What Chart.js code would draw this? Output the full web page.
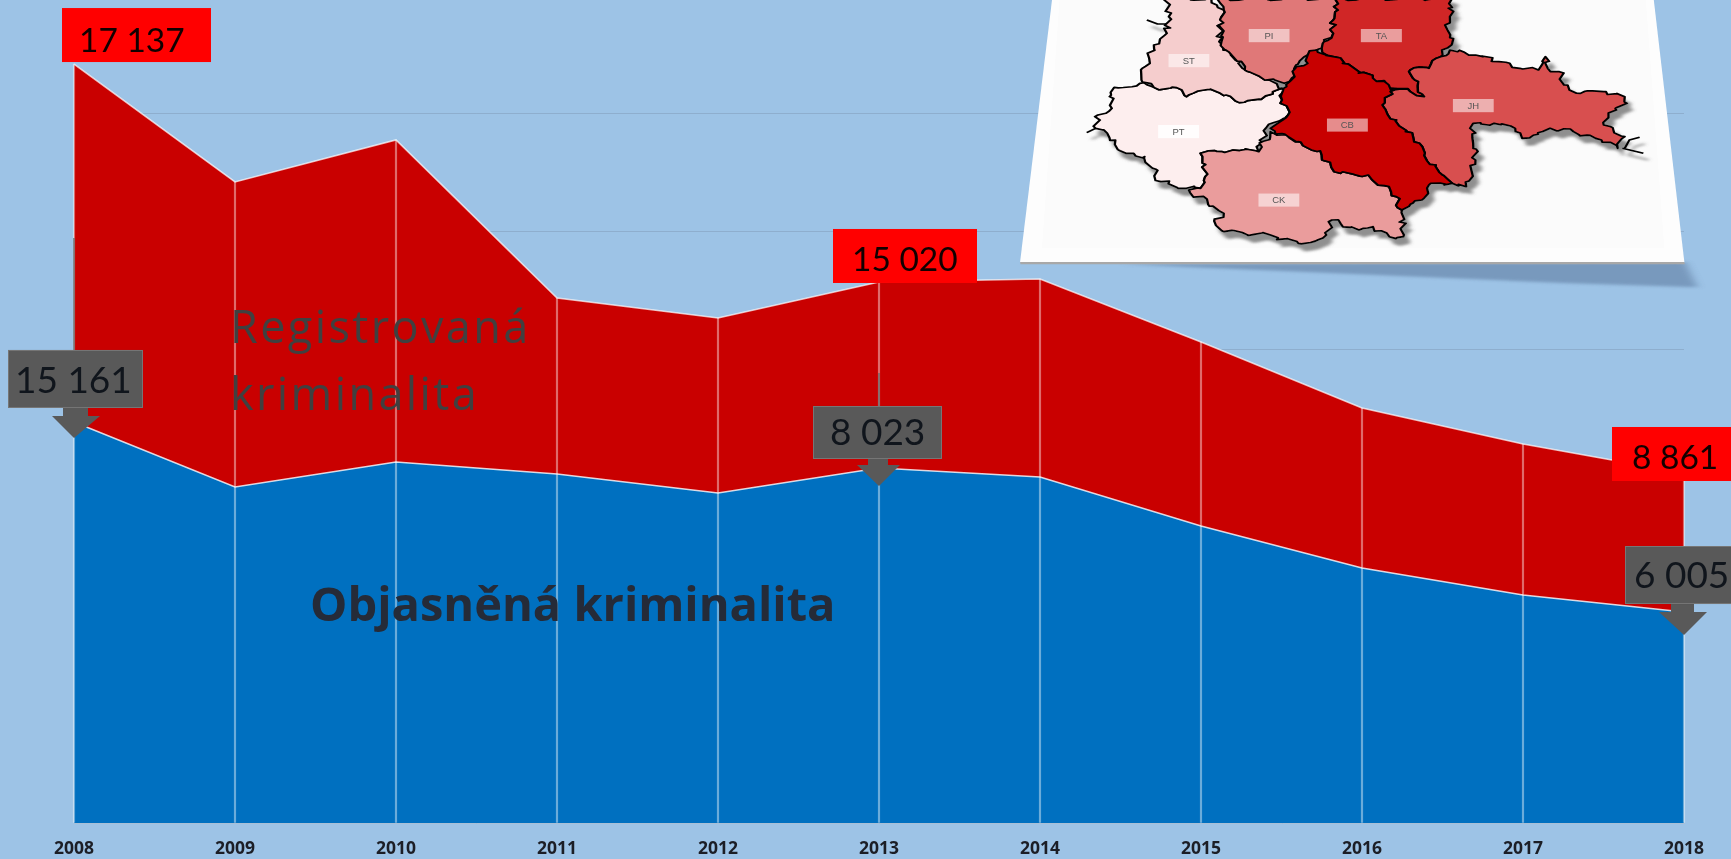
<!DOCTYPE html>
<html lang="cs">
<head>
<meta charset="utf-8">
<title>Registrovaná a objasněná kriminalita</title>
<script src="https://cdn.jsdelivr.net/npm/chart.js@4"></script>
<style>
html,body{margin:0;padding:0;width:1731px;height:859px;overflow:hidden;background:#9dc3e6}
#c{position:absolute;left:0;top:0}
#map{position:absolute;left:1000px;top:0}
</style>
</head>
<body>
<canvas id="c" width="1731" height="859"></canvas>
<svg id="map" width="731" height="300" viewBox="0 0 1568 900" preserveAspectRatio="none" xmlns="http://www.w3.org/2000/svg"></svg>
<script>
const years = ['2008','2009','2010','2011','2012','2013','2014','2015','2016','2017','2018'];
const registered = [17137,14474,15422,11855,11403,12216,12284,10861,9371,8558,7903];
const solved = [9055,7587,8151,7880,7451,8016,7813,6706,5758,5148,4764];
const gridValues = [0,2671,5342,8013,10684,13355,16026];
const registeredLabels = ['17 137','15 020','8 861'];
const solvedLabels = ['15 161','8 023','6 005'];
const seriesNames = ['Registrovaná','kriminalita','Objasněná kriminalita'];
const districts = ['PT','ST','CK','PI','TA','JH','CB'];

const style = {
  bg:'#9dc3e6', red:'#c90000', blue:'#0070c0', flag:'#ff0000', grey:'#595959'
};

// Callout geometry, relative to the data point they belong to
const redBoxes = [
  {i:0,  l:-12, r:137, t:-56, b:-2, tx:5},
  {i:5,  l:-46, r:98,  t:-53, b:1,  tx:-27, by:-11},
  {i:10, l:-72, r:48,  t:-46, b:8,  tx:-52, by:-4}
];
const greyBoxes = [
  {i:0,  l:-66, r:69, t:-72, b:-14, tx:-59, by:-29, sl:-11, sr:14, head:-6, hl:-22, hr:26, tip:16, lead:112},
  {i:5,  l:-66, r:63, t:-62, b:-9,  tx:-49, by:-23, sl:-11, sr:9,  head:-3, hl:-22, hr:21, tip:18, lead:33},
  {i:10, l:-59, r:48, t:-66, b:-8,  tx:-50, by:-24, sl:-13, sr:10, head:0,  hl:-25, hr:23, tip:23, lead:0}
];

const overlay = {
  id:'overlay',
  afterDraw(chart){
    const {ctx,scales:{x,y}} = chart;
    ctx.save();
    // series names
    ctx.textAlign='left'; ctx.textBaseline='alphabetic';
    ctx.fillStyle='#404040';
    ctx.font='400 45px "Open Sans", sans-serif';
    ctx.letterSpacing='2.4px';
    ctx.fillText(seriesNames[0], 230, 343);
    ctx.fillText(seriesNames[1], 230, 410);
    ctx.letterSpacing='0px';
    ctx.fillStyle='#252b38';
    ctx.font='700 47px "Open Sans", sans-serif';
    ctx.fillText(seriesNames[2], 310, 621);
    // red flags
    ctx.font='400 33.5px Lato, sans-serif';
    redBoxes.forEach((b,k)=>{
      const px=x.getPixelForValue(b.i), py=y.getPixelForValue(registered[b.i]);
      ctx.fillStyle=style.flag;
      ctx.fillRect(px+b.l,py+b.t,b.r-b.l,b.b-b.t);
      ctx.fillStyle='#120000';
      ctx.fillText(registeredLabels[k],px+b.tx,py+(b.by===undefined?-12:b.by));
    });
    // grey callouts
    ctx.font='400 37px Lato, sans-serif';
    greyBoxes.forEach((b,k)=>{
      const px=x.getPixelForValue(b.i), py=y.getPixelForValue(solved[b.i]);
      if(b.lead){
        ctx.strokeStyle='#6e6e6e'; ctx.lineWidth=1.5;
        ctx.beginPath(); ctx.moveTo(px,py+b.t); ctx.lineTo(px,py+b.t-b.lead); ctx.stroke();
      }
      ctx.fillStyle=style.grey;
      ctx.beginPath();
      ctx.moveTo(px+b.sl,py+b.b); ctx.lineTo(px+b.sr,py+b.b);
      ctx.lineTo(px+b.sr,py+b.head); ctx.lineTo(px+b.hr,py+b.head);
      ctx.lineTo(px,py+b.tip); ctx.lineTo(px+b.hl,py+b.head);
      ctx.lineTo(px+b.sl,py+b.head); ctx.closePath(); ctx.fill();
      ctx.fillRect(px+b.l,py+b.t,b.r-b.l,b.b-b.t);
      ctx.strokeStyle='#767676'; ctx.lineWidth=1;
      ctx.strokeRect(px+b.l+.5,py+b.t+.5,b.r-b.l-1,b.b-b.t-1);
      ctx.fillStyle='#10151c';
      ctx.fillText(solvedLabels[k],px+b.tx,py+b.by);
    });
    ctx.restore();
  }
};

new Chart(document.getElementById('c'),{
  data:{
    labels:years,
    datasets:[
      {type:'bar',label:'svislice',data:registered,order:0,barThickness:1.5,backgroundColor:'rgba(255,255,255,.42)',borderWidth:0,clip:false},
      {type:'line',label:'Objasněná kriminalita',data:solved,order:1,fill:'origin',backgroundColor:style.blue,borderColor:'rgba(255,255,255,.8)',borderWidth:1.6,pointRadius:0,tension:0},
      {type:'line',label:'Registrovaná kriminalita',data:registered,order:2,fill:'origin',backgroundColor:style.red,borderColor:'rgba(255,255,255,.7)',borderWidth:1.6,pointRadius:0,tension:0}
    ]
  },
  options:{
    responsive:false,animation:false,
    layout:{padding:{left:74,right:47,top:0,bottom:0}},
    plugins:{legend:{display:false},title:{display:false},tooltip:{enabled:false}},
    scales:{
      x:{
        offset:false,
        grid:{display:false},
        border:{display:true,color:'#a9bfd6',width:1},
        ticks:{color:'#1c1e26',font:{family:'"Open Sans", sans-serif',weight:'bold',size:17.5},padding:8,maxRotation:0,autoSkip:false},
        afterFit(s){s.height=36;}
      },
      y:{
        min:0,max:18583,
        ticks:{display:false},
        afterBuildTicks(s){s.ticks=gridValues.map(v=>({value:v}));},
        border:{display:false},
        grid:{drawTicks:false,lineWidth:1,color:'rgba(95,110,130,.24)'}
      }
    }
  },
  plugins:[overlay]
});

// Inset map (decorative picture), traced in a 1568x900 box
const shapes = {
  PT:{fill:'#fdeeee',pts:[[245,262],[300,250],[330,262],[390,270],[400,290],[450,268],[485,285],[505,303],[560,298],[605,265],[605,300],[618,345],[570,385],[555,455],[500,450],[430,460],[440,530],[430,565],[400,565],[345,545],[310,470],[270,460],[230,400],[205,385],[210,345],[240,325],[235,290]],lab:[383,395]},
  ST:{fill:'#f5cdcd',pts:[[355,-5],[362,50],[358,100],[330,135],[320,175],[305,205],[305,245],[330,262],[390,270],[400,290],[450,268],[485,285],[505,303],[560,298],[605,265],[570,240],[520,205],[495,165],[470,125],[475,50],[480,30],[465,15],[445,-5]],lab:[405,182]},
  CK:{fill:'#ea9c9c',pts:[[580,395],[640,425],[690,465],[730,520],[790,525],[850,590],[862,630],[865,710],[835,710],[800,680],[770,690],[712,660],[700,705],[640,730],[580,705],[480,695],[460,660],[480,640],[405,570],[430,565],[440,530],[430,460],[500,450],[555,455]],lab:[598,600]},
  PI:{fill:'#e07878',pts:[[465,-5],[480,30],[472,60],[475,125],[500,170],[525,210],[570,240],[610,250],[635,225],[635,195],[660,165],[690,145],[695,120],[715,100],[715,60],[725,30],[718,-5]],lab:[577,107]},
  TA:{fill:'#d02626',pts:[[718,-5],[725,30],[715,60],[715,100],[695,125],[690,145],[715,170],[760,205],[800,235],[845,265],[880,275],[910,290],[890,240],[880,210],[920,205],[945,170],[948,150],[970,130],[960,90],[965,50],[970,-5]],lab:[818,107]},
  JH:{fill:'#d85050',pts:[[965,150],[1020,165],[1070,185],[1115,205],[1155,210],[1170,170],[1175,205],[1200,215],[1210,255],[1245,280],[1300,275],[1340,290],[1345,310],[1320,325],[1295,375],[1340,410],[1325,445],[1290,420],[1230,395],[1180,385],[1120,415],[1105,385],[1060,370],[1015,370],[1015,430],[1020,480],[1000,560],[970,550],[935,495],[910,465],[900,430],[870,395],[850,360],[820,315],[845,270],[880,275],[910,290],[890,240],[880,210],[920,205],[945,170]],lab:[1015,317]},
  CB:{fill:'#c80000',pts:[[680,150],[660,165],[660,190],[635,200],[632,230],[608,265],[605,300],[618,345],[580,385],[640,425],[690,465],[730,520],[790,525],[850,590],[862,630],[905,600],[920,555],[970,550],[935,495],[910,465],[900,430],[870,395],[850,360],[820,315],[845,270],[800,235],[760,205],[715,170]],lab:[745,375]}
};
function jagged(pts){
  const out=[];
  for(let k=0;k<pts.length;k++){
    const a=pts[k],b=pts[(k+1)%pts.length];
    const n=Math.max(1,Math.round(Math.hypot(b[0]-a[0],b[1]-a[1])/11));
    for(let i=0;i<n;i++){
      const t=i/n;
      let px=a[0]+(b[0]-a[0])*t,py=a[1]+(b[1]-a[1])*t;
      if(i>0){
        const ax=Math.round(px/4)*4,ay=Math.round(py/4)*4;
        px+=Math.sin(ax*12.9898+ay*78.233)*7;
        py+=Math.cos(ax*39.346+ay*11.135)*6;
      }
      out.push(px.toFixed(1)+','+py.toFixed(1));
    }
  }
  return out.join(' ');
}
let svg = `<defs>
<filter id="soft" x="-5%" y="-5%" width="110%" height="110%"><feGaussianBlur stdDeviation="1.6 1.2"/></filter>
<filter id="shadowBlur" x="-10%" y="-50%" width="120%" height="200%"><feGaussianBlur stdDeviation="9 5"/></filter>
<filter id="drop" x="-5%" y="-5%" width="115%" height="115%"><feDropShadow dx="11" dy="20" stdDeviation="4 3" flood-color="#555" flood-opacity=".65"/></filter>
</defs>
<polygon points="260,792 1470,786 1496,862 1220,850" fill="#6f8fb3" opacity=".8" filter="url(#shadowBlur)"/>
<polygon points="112,-5 1402,-5 1468,787 43,787" fill="#fdfdfd"/>
<polygon points="128,-5 1385,-5 1425,745 90,745" fill="#fbfbfb" filter="url(#soft)"/>
<polygon points="43,786 1468,786 1469,793 44,793" fill="#a8a8a8"/>
<g filter="url(#soft)"><g filter="url(#drop)" stroke="#000" stroke-width="5" stroke-linejoin="round">
<polyline points="315,60 338,72 358,72" fill="none"/>
<polyline points="205,385 186,398" fill="none"/>
<polyline points="1340,445 1350,420 1372,412" fill="none"/>
<polyline points="1335,445 1380,460" fill="none"/>`;
districts.forEach(d=>{ svg+=`<polygon points="${jagged(shapes[d].pts)}" fill="${shapes[d].fill}"/>`; });
svg+='</g></g><g filter="url(#soft)">';
districts.forEach(d=>{
  const [cx,cy]=shapes[d].lab;
  svg+=`<rect x="${cx-44}" y="${cy-20}" width="88" height="40" fill="#fff" fill-opacity="${d==='PT'?.85:.55}"/>`;
  svg+=`<text transform="translate(${cx},${cy+10}) scale(2.145,3)" text-anchor="middle" font-family="Liberation Sans" font-size="9.5" fill="#555">${d}</text>`;
});
svg+='</g>';
document.getElementById('map').innerHTML=svg;
</script>
</body>
</html>
